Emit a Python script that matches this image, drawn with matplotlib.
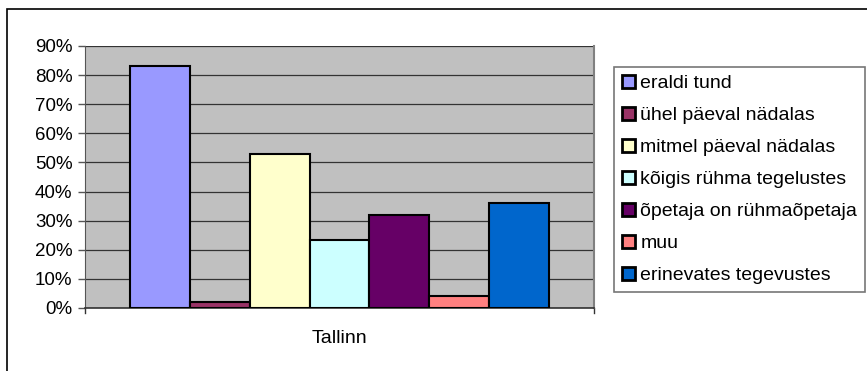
import numpy as np
import matplotlib
matplotlib.use("Agg")
import matplotlib.pyplot as plt
from matplotlib.patches import Rectangle
from matplotlib.ticker import PercentFormatter

plt.rcParams["font.family"] = ["Liberation Sans", "DejaVu Sans"]

# data
category = "Tallinn"
series = ["eraldi tund", "ühel päeval nädalas", "mitmel päeval nädalas",
          "kõigis rühma tegelustes", "õpetaja on rühmaõpetaja", "muu",
          "erinevates tegevustes"]
values = [83, 2, 53, 23.3, 32, 4.2, 36.2]
colors = ["#9999FF", "#993366", "#FFFFCC", "#CCFFFF", "#660066", "#FF8080", "#0066CC"]

W, H = 867, 371
fig = plt.figure(figsize=(W / 100, H / 100), dpi=100)

# outer chart border (cut off on the right and bottom in the reference)
fig.patches.append(Rectangle((7 / W, -0.1), 1.2, 1 - 9 / H + 0.1,
                             transform=fig.transFigure, fill=False,
                             edgecolor="black", lw=1.2))

ax = fig.add_axes([85 / W, 1 - 308 / H, 509 / W, 262 / H])
ax.set_facecolor("#C0C0C0")

x = np.arange(len(values))
for i, (v, c, lab) in enumerate(zip(values, colors, series)):
    ax.bar(x[i], v, width=1.0, color=c, edgecolor="black", lw=1.5,
           label=lab, zorder=3)

ax.set_xlim(-1.25, len(values) + 0.25)
ax.set_ylim(0, 90)
ax.set_yticks(np.arange(0, 91, 10))
ax.yaxis.set_major_formatter(PercentFormatter(decimals=0))
ax.grid(axis="y", color="#333333", lw=0.9, zorder=1)
ax.set_xticks([(len(values) - 1) / 2])
ax.set_xticklabels([category])
ax.tick_params(axis="x", length=0, pad=16, labelsize=14)
ax.tick_params(axis="y", length=5, width=1, color="#555555", labelsize=13.5, pad=4)

ax.spines["top"].set_visible(False)
ax.spines["right"].set_color("#808080")
ax.spines["right"].set_linewidth(1.5)
ax.spines["left"].set_color("#555555")
ax.spines["bottom"].set_color("#333333")
ax.spines["bottom"].set_linewidth(1.2)

# category boundary ticks on the x axis
for xb in ax.get_xlim():
    ax.plot([xb, xb], [0, -1.6], color="#333333", lw=1, clip_on=False)

leg = fig.legend(loc="upper left", bbox_to_anchor=(614 / W, 1 - 67 / H),
                 fontsize=14, frameon=True, fancybox=False, handlelength=0.7,
                 handleheight=0.7, handletextpad=0.25, labelspacing=0.74,
                 borderpad=0.4, borderaxespad=0)
leg.get_frame().set_edgecolor("#555555")
leg.get_frame().set_linewidth(1.2)
for p in leg.get_patches():
    p.set_linewidth(2)

fig.savefig("out.png", dpi=100)
